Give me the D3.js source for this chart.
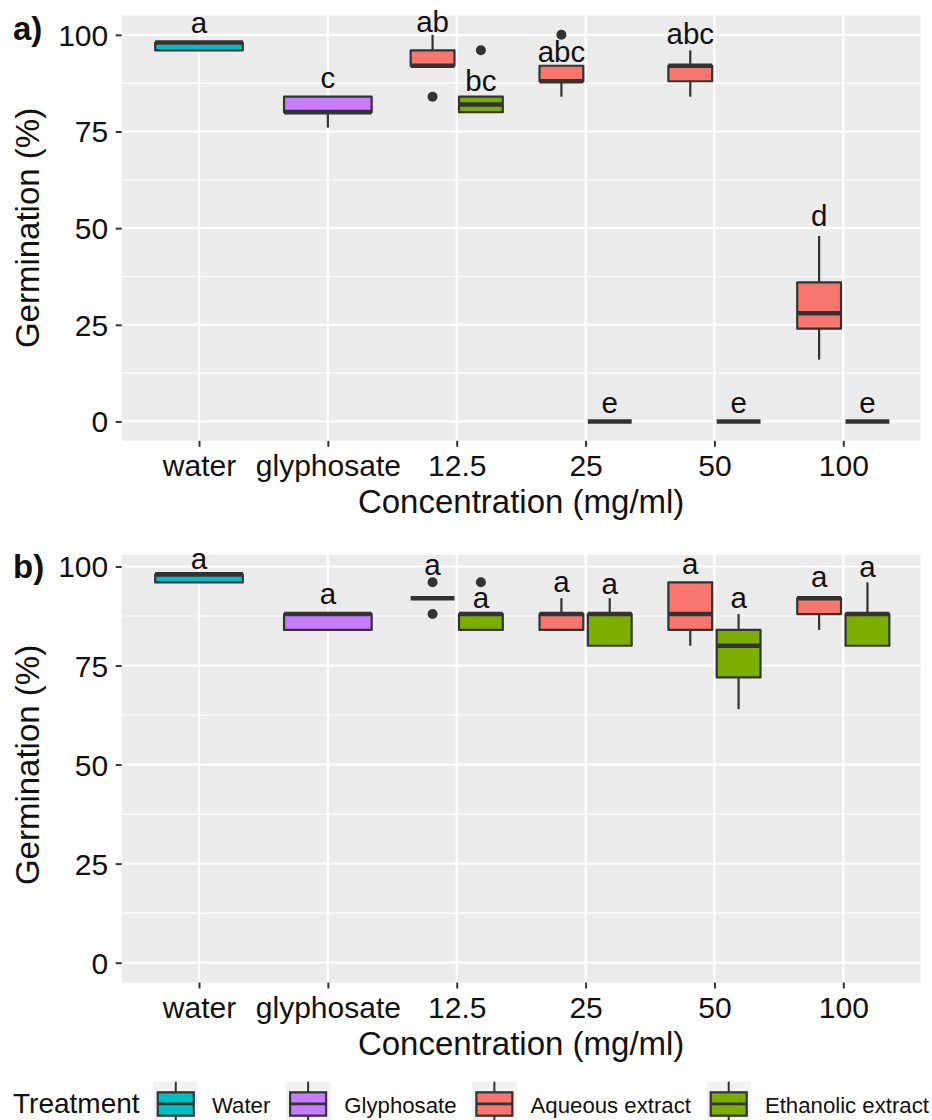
<!DOCTYPE html>
<html>
<head>
<meta charset="utf-8">
<script src="https://cdn.jsdelivr.net/npm/d3@7"></script>
<style>
  body { margin: 0; background: #fff; }
  text { font-family: "Liberation Sans", Arial, sans-serif; fill: #111; }
</style>
</head>
<body>
<svg id="chart" width="932" height="1120"></svg>
<script>
// ---- data ----
const concentrations = ["water", "glyphosate", "12.5", "25", "50", "100"];
const treatments = ["Water", "Glyphosate", "Aqueous extract", "Ethanolic extract"];
const yTicks = [0, 25, 50, 75, 100];
const yMinorTicks = [12.5, 37.5, 62.5, 87.5];

// Germination (%) summaries per concentration and treatment:
// [concentration, treatment, lower whisker, Q1, median, Q3, upper whisker, outliers, letter, letter height]
const germinationA = [
  ["water",      "Water",             96, 96, 98, 98, 98, [],    "a",   100.4],
  ["glyphosate", "Glyphosate",        76, 80, 80, 84, 84, [],    "c",   86.2],
  ["12.5",       "Aqueous extract",   92, 92, 92, 96, 100, [84], "ab",  100.8],
  ["12.5",       "Ethanolic extract", 80, 80, 82, 84, 84, [96],  "bc",  85.5],
  ["25",         "Aqueous extract",   84, 88, 88, 92, 92, [100], "abc", 93.0],
  ["25",         "Ethanolic extract", 0, 0, 0, 0, 0, [],         "e",   2.1],
  ["50",         "Aqueous extract",   84, 88, 92, 92, 96, [],    "abc", 97.5],
  ["50",         "Ethanolic extract", 0, 0, 0, 0, 0, [],         "e",   2.1],
  ["100",        "Aqueous extract",   16, 24, 28, 36, 48, [],    "d",   50.6],
  ["100",        "Ethanolic extract", 0, 0, 0, 0, 0, [],         "e",   2.1]
];

const germinationB = [
  ["water",      "Water",             96, 96, 98, 98, 98, [],       "a", 99.3],
  ["glyphosate", "Glyphosate",        84, 84, 88, 88, 88, [],       "a", 90.5],
  ["12.5",       "Aqueous extract",   92, 92, 92, 92, 92, [96, 88], "a", 97.9],
  ["12.5",       "Ethanolic extract", 84, 84, 88, 88, 88, [96],     "a", 89.4],
  ["25",         "Aqueous extract",   84, 84, 88, 88, 92, [],       "a", 93.6],
  ["25",         "Ethanolic extract", 80, 80, 88, 88, 92, [],       "a", 93.1],
  ["50",         "Aqueous extract",   80, 84, 88, 96, 96, [],       "a", 98.0],
  ["50",         "Ethanolic extract", 64, 72, 80, 84, 88, [],       "a", 89.4],
  ["100",        "Aqueous extract",   84, 88, 92, 92, 92, [],       "a", 94.9],
  ["100",        "Ethanolic extract", 80, 80, 88, 88, 96, [],       "a", 97.4]
];

// ---- styling ----
const fillColor = d3.scaleOrdinal()
  .domain(treatments)
  .range(["#00BFC4", "#C77CFF", "#F8766D", "#7CAE00"]);

// dodge offset and box width in units of the category step
const dodge = {
  "Water":             { offset: 0,       width: 0.68 },
  "Glyphosate":        { offset: 0,       width: 0.68 },
  "Aqueous extract":   { offset: -0.1875, width: 0.34 },
  "Ethanolic extract": { offset: 0.1875,  width: 0.34 }
};

const ink = "#333333";
const svg = d3.select("#chart");

const x = d3.scalePoint()
  .domain(concentrations)
  .range([121.7, 920.6])
  .padding(0.6);
const step = x.step();

function drawPanel(rows, y, tag, tagBaseline, titleCenterY) {
  const [yBottom, yTop] = y.range();
  const [xLeft, xRight] = x.range();
  const g = svg.append("g");

  // panel background
  g.append("rect")
    .attr("x", xLeft).attr("y", yTop)
    .attr("width", xRight - xLeft).attr("height", yBottom - yTop)
    .attr("fill", "#EBEBEB");

  // grid
  g.selectAll(".minor").data(yMinorTicks).join("line")
    .attr("x1", xLeft).attr("x2", xRight)
    .attr("y1", d => y(d)).attr("y2", d => y(d))
    .attr("stroke", "#fff").attr("stroke-width", 1.1);
  g.selectAll(".major").data(yTicks).join("line")
    .attr("x1", xLeft).attr("x2", xRight)
    .attr("y1", d => y(d)).attr("y2", d => y(d))
    .attr("stroke", "#fff").attr("stroke-width", 2.2);
  g.selectAll(".vgrid").data(concentrations).join("line")
    .attr("x1", d => x(d)).attr("x2", d => x(d))
    .attr("y1", yTop).attr("y2", yBottom)
    .attr("stroke", "#fff").attr("stroke-width", 2.2);

  // axes
  const yAxis = g.append("g")
    .attr("transform", `translate(${xLeft},0)`)
    .call(d3.axisLeft(y).tickValues(yTicks).tickSize(6).tickPadding(7.5).tickFormat(d3.format("d")));
  const xAxis = g.append("g")
    .attr("transform", `translate(0,${yBottom})`)
    .call(d3.axisBottom(x).tickSize(6).tickPadding(8));
  [yAxis, xAxis].forEach(a => {
    a.select(".domain").remove();
    a.selectAll(".tick line").attr("stroke", ink).attr("stroke-width", 2);
    a.selectAll(".tick text")
      .attr("font-size", 30)
      .attr("font-family", "Liberation Sans, Arial, sans-serif")
      .attr("fill", "#111");
  });
  yAxis.selectAll(".tick text").attr("dy", "0.35em");

  // axis titles
  g.append("text")
    .attr("x", (xLeft + xRight) / 2).attr("y", yBottom + 72.5)
    .attr("text-anchor", "middle").attr("font-size", 33)
    .text("Concentration (mg/ml)");
  g.append("text")
    .attr("transform", `translate(38.5,${titleCenterY}) rotate(-90)`)
    .attr("text-anchor", "middle").attr("font-size", 33)
    .text("Germination (%)");

  // panel tag
  g.append("text")
    .attr("x", 13).attr("y", tagBaseline)
    .attr("font-size", 33).attr("font-weight", "bold")
    .text(tag);

  // boxplots
  const boxes = g.selectAll(".box").data(rows).join("g")
    .attr("transform", d => `translate(${x(d[0]) + dodge[d[1]].offset * step},0)`);

  boxes.each(function(d) {
    const b = d3.select(this);
    const w = dodge[d[1]].width * step;
    const [lo, q1, med, q3, hi, outs, letter, letterY] = d.slice(2);
    // whiskers
    b.append("line").attr("x1", 0).attr("x2", 0)
      .attr("y1", y(hi)).attr("y2", y(q3))
      .attr("stroke", ink).attr("stroke-width", 2.2);
    b.append("line").attr("x1", 0).attr("x2", 0)
      .attr("y1", y(q1)).attr("y2", y(lo))
      .attr("stroke", ink).attr("stroke-width", 2.2);
    // box
    b.append("rect")
      .attr("x", -w / 2).attr("width", w)
      .attr("y", y(q3)).attr("height", y(q1) - y(q3))
      .attr("fill", fillColor(d[1]))
      .attr("stroke", ink).attr("stroke-width", 2.2)
      .attr("stroke-linejoin", "round");
    // median
    b.append("line")
      .attr("x1", -w / 2).attr("x2", w / 2)
      .attr("y1", y(med)).attr("y2", y(med))
      .attr("stroke", ink).attr("stroke-width", 4.6);
    // outliers
    b.selectAll("circle").data(outs).join("circle")
      .attr("cx", 0).attr("cy", v => y(v)).attr("r", 5)
      .attr("fill", ink);
    // significance letter
    b.append("text")
      .attr("x", 0).attr("y", y(letterY))
      .attr("text-anchor", "middle").attr("font-size", 29.5)
      .text(letter);
  });
}

const yA = d3.scaleLinear().domain([-5, 105]).range([440.8, 15.5]);
const yB = d3.scaleLinear().domain([-5, 102.9]).range([982.5, 555]);

drawPanel(germinationA, yA, "a)", 40, 228);
drawPanel(germinationB, yB, "b)", 578, 765);

// ---- legend ----
const legend = svg.append("g");
const legendBaseline = 1113;
const legendTitle = legend.append("text")
  .attr("x", 13).attr("y", legendBaseline)
  .attr("font-size", 28)
  .text("Treatment");
let cursor = 13 + legendTitle.node().getComputedTextLength() + 14;
const keyW = 44.4, keyTop = 1081.7, keyBottom = 1128;
const boxW = 36, boxTop = 1092.3, boxBottom = 1115.7, boxMid = 1103.9;

treatments.forEach(t => {
  const k = legend.append("g").attr("transform", `translate(${cursor},0)`);
  const cx = keyW / 2;
  k.append("rect").attr("x", 0).attr("y", keyTop)
    .attr("width", keyW).attr("height", keyBottom - keyTop)
    .attr("fill", "#F2F2F2");
  k.append("line").attr("x1", cx).attr("x2", cx).attr("y1", keyTop).attr("y2", keyBottom)
    .attr("stroke", ink).attr("stroke-width", 2);
  k.append("rect").attr("x", cx - boxW / 2).attr("y", boxTop)
    .attr("width", boxW).attr("height", boxBottom - boxTop)
    .attr("fill", fillColor(t)).attr("stroke", ink).attr("stroke-width", 2.2);
  k.append("line").attr("x1", cx - boxW / 2).attr("x2", cx + boxW / 2)
    .attr("y1", boxMid).attr("y2", boxMid)
    .attr("stroke", ink).attr("stroke-width", 2.6);
  const label = k.append("text")
    .attr("x", keyW + 14).attr("y", legendBaseline)
    .attr("font-size", 22.2)
    .text(t);
  cursor += keyW + 14 + label.node().getComputedTextLength() + 15.6;
});
</script>
</body>
</html>
